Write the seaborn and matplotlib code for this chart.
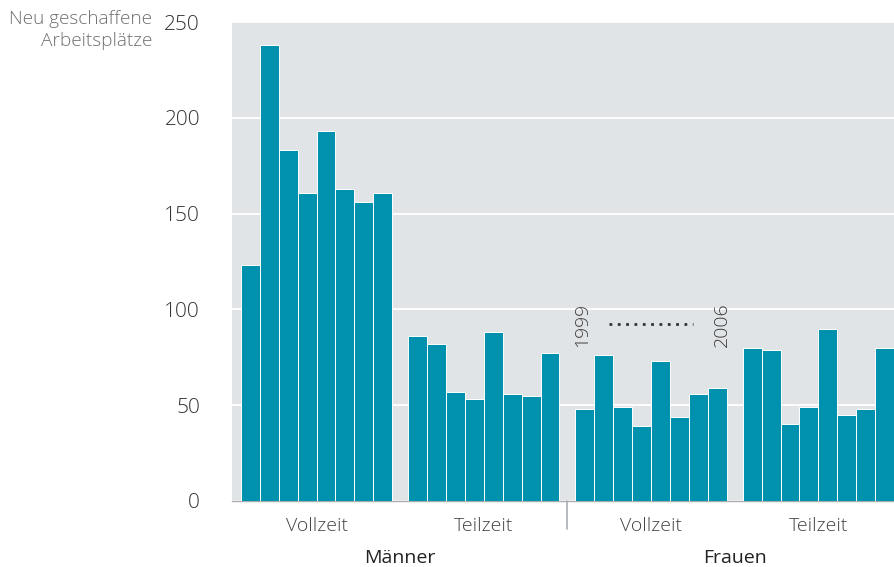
import numpy as np
import pandas as pd
import matplotlib
matplotlib.use("Agg")
import matplotlib.pyplot as plt
import seaborn as sns

# values (1999..2006 per group)
years = [1999, 2000, 2001, 2002, 2003, 2004, 2005, 2006]
groups = ["Vollzeit", "Teilzeit", "Vollzeit", "Teilzeit"]
sexes = ["Männer", "Frauen"]
maenner_vollzeit = [123, 238, 183, 161, 193, 163, 156, 161]
maenner_teilzeit = [86, 82, 57, 53, 88, 56, 55, 77]
frauen_vollzeit = [48, 76, 49, 39, 73, 44, 56, 59]
frauen_teilzeit = [80, 79, 40, 49, 90, 45, 48, 80]

series = [maenner_vollzeit, maenner_teilzeit, frauen_vollzeit, frauen_teilzeit]

bar_color = "#0091ae"
bg_color = "#e1e4e7"
step = 8.842  # group step in bar units

rows = []
for g, vals in enumerate(series):
    for i, v in enumerate(vals):
        rows.append({"x": g * step + i + 0.5, "value": v, "group": g, "year": years[i]})
df = pd.DataFrame(rows)

sns.set_theme(style="white")
plt.rcParams["font.family"] = ["Open Sans", "DejaVu Sans"]

fig = plt.figure(figsize=(8.94, 5.67), dpi=100)
ax = fig.add_axes([232 / 894, 66 / 567, 662 / 894, 479 / 567])
ax.set_facecolor(bg_color)

ax.bar(df["x"], df["value"], width=1.0, color=bar_color, edgecolor="white",
       linewidth=0.7, zorder=3)

ax.set_xlim(-0.47, 3 * step + 8)
ax.set_ylim(0, 250)
ax.set_yticks([0, 50, 100, 150, 200, 250])
ax.yaxis.grid(True, color="white", linewidth=1.3, zorder=1)
ax.set_axisbelow(True)
ax.set_xticks([])
ax.tick_params(axis="y", length=0, pad=23, labelsize=15, labelcolor="#333333")
for lab in ax.get_yticklabels():
    lab.set_fontweight("light")
for s in ["top", "right", "left"]:
    ax.spines[s].set_visible(False)
ax.spines["bottom"].set_color("#a9adb1")
ax.spines["bottom"].set_linewidth(1.0)

# y label
fig.text(152 / 894, 1 - 10 / 567, "Neu geschaffene\nArbeitsplätze", ha="right", va="top",
         fontsize=13.7, color="#707070", fontweight="light", linespacing=1.25)

# group labels
trans = ax.get_xaxis_transform()
for g, name in enumerate(groups):
    ax.text(g * step + 4, -0.052, name, transform=trans, ha="center", va="center",
            fontsize=14, color="#444444", fontweight="light")
for k, name in enumerate(sexes):
    ax.text(k * 2 * step + (step + 8) / 2, -0.12, name, transform=trans, ha="center",
            va="center", fontsize=14, color="#222222")

# separator between Männer and Frauen
sep_x = step + 8 + (step - 8) / 2
ax.plot([sep_x, sep_x], [0, -0.058], transform=trans, color="#a9adb1", lw=1.2,
        clip_on=False)

# year annotation above Frauen Vollzeit
g3 = 2 * step
ax.text(g3 + 0.35, 80.5, str(years[0]), rotation=90, ha="center", va="bottom",
        fontsize=14, color="#3a3a3a", fontweight="light")
ax.text(g3 + 7.75, 80.5, str(years[-1]), rotation=90, ha="center", va="bottom",
        fontsize=14, color="#3a3a3a", fontweight="light")
ax.plot([g3 + 1.75, g3 + 6.2], [92.4, 92.4], color="#333333", lw=2.0,
        linestyle=(0, (1, 2.0)), zorder=4)

fig.savefig("out.png", dpi=100)
